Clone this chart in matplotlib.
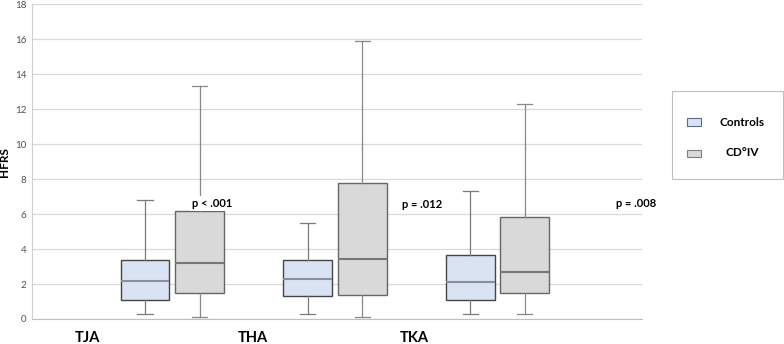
import matplotlib.pyplot as plt
from matplotlib.patches import Rectangle
from matplotlib.transforms import blended_transform_factory

plt.rcParams['font.family'] = ['Lato', 'DejaVu Sans']

# data (HFRS)
groups = ['TJA', 'THA', 'TKA']
series = ['Controls', 'CD°IV']
p_labels = ['p < .001', 'p = .012', 'p = .008']

ctrl_whislo = [0.3, 0.3, 0.3]
ctrl_q1 = [1.1, 1.3, 1.1]
ctrl_med = [2.2, 2.3, 2.1]
ctrl_q3 = [3.4, 3.4, 3.65]
ctrl_whishi = [6.8, 5.5, 7.3]

cd_whislo = [0.1, 0.1, 0.3]
cd_q1 = [1.5, 1.4, 1.5]
cd_med = [3.2, 3.45, 2.7]
cd_q3 = [6.15, 7.8, 5.85]
cd_whishi = [13.3, 15.9, 12.3]

# layout
centers = [0.69, 1.49, 2.29]
offset = 0.134
label_x = [0.275, 1.087, 1.88]
p_x = [0.885, 1.92, 2.97]
p_y = [6.4, 6.35, 6.4]

fill_colors = ['#dae3f3', '#d9d9d9']
edge_colors = ['#5a6a8a', '#7f7f7f']

fig = plt.figure(figsize=(7.84, 3.44), dpi=100)
ax = fig.add_axes([0.0408, 0.0727, 0.778, 0.915])


def stats(lo, q1, med, q3, hi):
    return [dict(whislo=a, q1=b, med=c, q3=d, whishi=e, fliers=[])
            for a, b, c, d, e in zip(lo, q1, med, q3, hi)]


ctrl = stats(ctrl_whislo, ctrl_q1, ctrl_med, ctrl_q3, ctrl_whishi)
cd = stats(cd_whislo, cd_q1, cd_med, cd_q3, cd_whishi)

ax.bxp(ctrl, positions=[c - offset for c in centers], widths=0.24,
       patch_artist=True, showfliers=False, capwidths=0.075,
       boxprops=dict(facecolor=fill_colors[0], edgecolor='#454545', linewidth=1),
       medianprops=dict(color='#8a8f99', linewidth=1.5),
       whiskerprops=dict(color='#7a7a7a', linewidth=0.9),
       capprops=dict(color='#7a7a7a', linewidth=0.9))
ax.bxp(cd, positions=[c + offset for c in centers], widths=0.24,
       patch_artist=True, showfliers=False, capwidths=0.075,
       boxprops=dict(facecolor=fill_colors[1], edgecolor='#666666', linewidth=1),
       medianprops=dict(color='#777777', linewidth=1.5),
       whiskerprops=dict(color='#888888', linewidth=0.9),
       capprops=dict(color='#888888', linewidth=0.9))

ax.set_xlim(0, 3)
ax.set_ylim(0, 18)
ax.set_yticks(range(0, 19, 2))
ax.set_xticks([])
ax.tick_params(axis='y', length=0, labelsize=7, colors='#505050', pad=4)
ax.yaxis.grid(True, color='#d9d9d9', linewidth=0.9)
ax.set_axisbelow(True)
for s in ['top', 'right']:
    ax.spines[s].set_visible(False)
ax.spines['left'].set_color('#d0d0d0')
ax.spines['bottom'].set_color('#bfbfbf')
ax.set_ylabel('HFRS', fontsize=8.5, fontweight='bold')
ax.yaxis.set_label_coords(-0.036, 0.5)

trans = blended_transform_factory(ax.transData, ax.transAxes)
for x, g in zip(label_x, groups):
    ax.text(x, -0.072, g, transform=trans, ha='center', va='baseline',
            fontsize=10.5, fontweight='bold')
for x, y, p in zip(p_x, p_y, p_labels):
    ax.text(x, y, p, ha='center', va='baseline', fontsize=8, fontweight='bold',
            bbox=dict(facecolor='white', edgecolor='none', pad=1.5), zorder=5)

# legend box drawn in figure pixels
W, H = 784, 344
fig.patches.append(Rectangle((672 / W, 1 - 179 / H), 111 / W, 88 / H,
                             transform=fig.transFigure, facecolor='white',
                             edgecolor='#bfbfbf', linewidth=0.8))
for i, name in enumerate(series):
    yc = 122 + 31 * i
    fig.patches.append(Rectangle((687 / W, 1 - (yc + 3.5) / H), 14 / W, 7 / H,
                                 transform=fig.transFigure,
                                 facecolor=fill_colors[i],
                                 edgecolor=edge_colors[i], linewidth=0.8))
    fig.text(742 / W, 1 - yc / H, name, ha='center', va='center',
             fontsize=8.5, fontweight='bold')

fig.savefig('out.png', dpi=100)
